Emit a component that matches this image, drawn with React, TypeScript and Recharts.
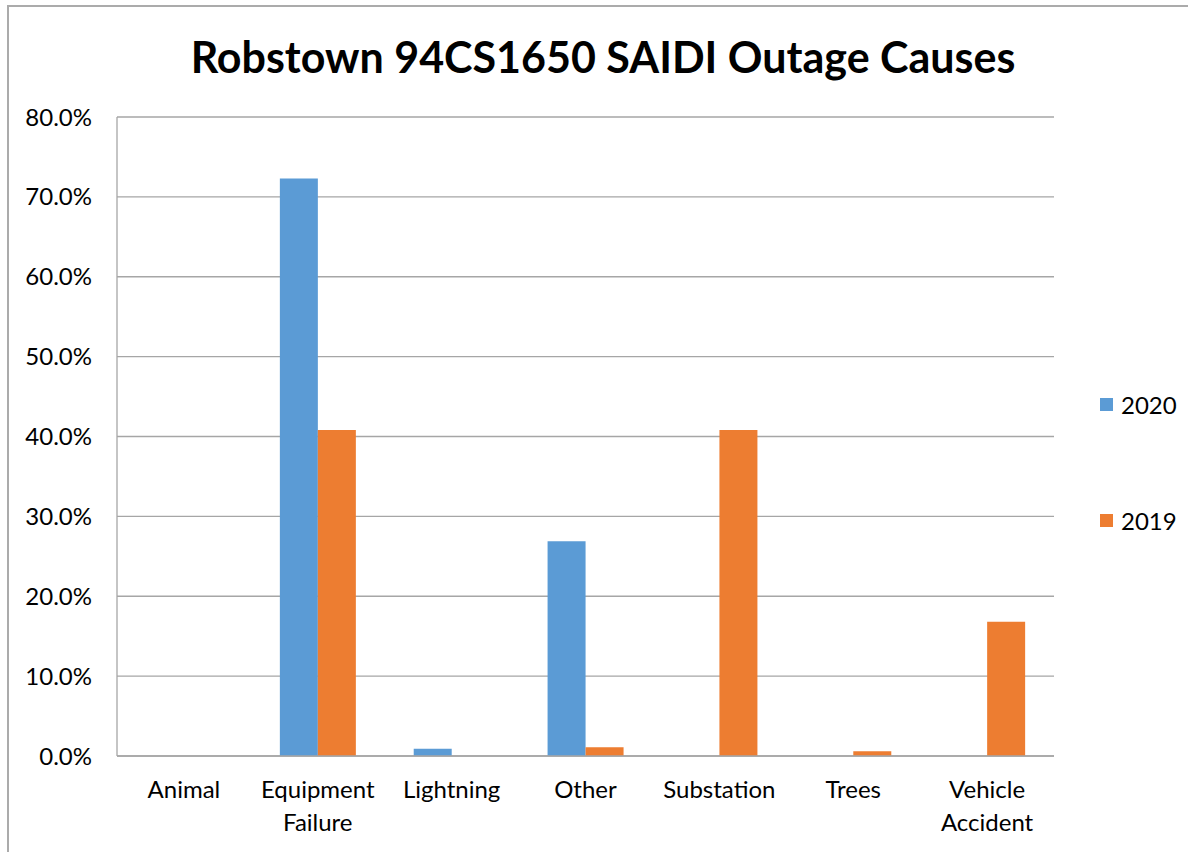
import React from "react";
import { BarChart, Bar, XAxis, YAxis, CartesianGrid } from "recharts";

const categories = ["Animal", "Equipment Failure", "Lightning", "Other", "Substation", "Trees", "Vehicle Accident"];
const values2020 = [0, 72.3, 0.9, 26.9, 0, 0, 0];
const values2019 = [0, 40.8, 0, 1.1, 40.8, 0.6, 16.8];
const yTicks = [0, 10, 20, 30, 40, 50, 60, 70, 80];
const seriesNames = ["2020", "2019"];

const BLUE = "#5B9BD5";
const ORANGE = "#ED7D31";
const GRID = "#A6A6A6";
const FONT = "Lato, 'Open Sans', sans-serif";

const data = categories.map((c, i) => ({ name: c, y2020: values2020[i], y2019: values2019[i] }));

const CategoryTick = ({ x, y, payload }: any) => {
  const words = String(payload.value).split(" ");
  return (
    <text x={x} y={y} textAnchor="middle" fontSize={24} fontFamily={FONT} fill="#000">
      {words.map((w: string, i: number) => (
        <tspan key={i} x={x} dy={i === 0 ? 34 : 33}>
          {w}
        </tspan>
      ))}
    </text>
  );
};

// legend drawn outside the chart so it doesn't eat into the plot offsets
const LegendBox = () => {
  const colors = [BLUE, ORANGE];
  return (
    <div style={{ position: "absolute", left: 1100, top: 391, fontFamily: FONT, fontSize: 24, color: "#000" }}>
      {seriesNames.map((label, i) => (
        <div key={label} style={{ display: "flex", alignItems: "center", height: 26, marginBottom: i === 0 ? 90 : 0 }}>
          <span style={{ display: "inline-block", width: 13, height: 13, background: colors[i], marginRight: 8 }} />
          <span>{label}</span>
        </div>
      ))}
    </div>
  );
};

export default function App() {
  return (
    <div style={{ position: "absolute", left: 0, top: 0, width: 1188, height: 852, background: "#fff", overflow: "hidden" }}>
      {/* outer frame: only top and left edges are visible in the crop */}
      <div style={{ position: "absolute", left: 7, top: 5, right: -10, bottom: -10, borderTop: "2px solid #ABABAB", borderLeft: "2px solid #ABABAB" }} />
      <div
        style={{
          position: "absolute",
          left: 0,
          width: 1206,
          top: 28,
          textAlign: "center",
          fontFamily: FONT,
          fontWeight: 700,
          fontSize: 43,
          color: "#000",
          lineHeight: "58px",
        }}
      >
        Robstown 94CS1650 SAIDI Outage Causes
      </div>
      <div style={{ position: "absolute", left: 0, top: 0 }}>
        <BarChart width={1188} height={852} data={data} margin={{ top: 117, right: 134, bottom: 0, left: 0 }} barCategoryGap={29} barGap={0}>
          <CartesianGrid vertical={false} stroke={GRID} strokeWidth={1.3} />
          <XAxis
            dataKey="name"
            tick={<CategoryTick />}
            tickLine={false}
            axisLine={{ stroke: GRID, strokeWidth: 1.3 }}
            interval={0}
            height={96}
          />
          <YAxis
            width={117}
            domain={[0, 80]}
            ticks={yTicks}
            tickFormatter={(v: number) => `${v.toFixed(1)}%`}
            tickLine={false}
            tickSize={6}
            tickMargin={19}
            axisLine={{ stroke: GRID, strokeWidth: 1.3 }}
            tick={{ fontSize: 24, fontFamily: FONT, fill: "#000" }}
          />
          <Bar dataKey="y2020" name="2020" fill={BLUE} isAnimationActive={false} />
          <Bar dataKey="y2019" name="2019" fill={ORANGE} isAnimationActive={false} />
        </BarChart>
      </div>
      <LegendBox />
    </div>
  );
}
